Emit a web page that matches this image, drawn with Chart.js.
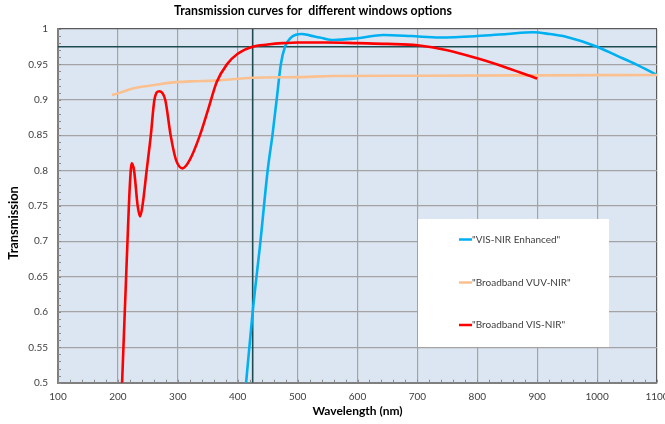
<!DOCTYPE html>
<html><head><meta charset="utf-8">
<script src="https://cdn.jsdelivr.net/npm/chart.js@4.4.1/dist/chart.umd.min.js"></script>
<style>html,body{margin:0;padding:0;background:#fff;}#wrap{width:665px;height:424px;}</style>
</head><body><div id="wrap"><canvas id="c" width="665" height="424"></canvas></div>
<script>
// ---- texts ----
const chartTitle = "Transmission curves for  different windows options";
const xAxisTitle = "Wavelength (nm)";
const yAxisTitle = "Transmission";
const seriesNames = ['"VIS-NIR Enhanced"', '"Broadband VUV-NIR"', '"Broadband VIS-NIR"'];

// ---- tick labels ----
const xTickValues = [100, 200, 300, 400, 500, 600, 700, 800, 900, 1000, 1100];
const xTickLabels = ["100", "200", "300", "400", "500", "600", "700", "800", "900", "1000", "1100"];
const yTickValues = [0.5, 0.55, 0.6, 0.65, 0.7, 0.75, 0.8, 0.85, 0.9, 0.95, 1];
const yTickLabels = ["0.5", "0.55", "0.6", "0.65", "0.7", "0.75", "0.8", "0.85", "0.9", "0.95", "1"];

// ---- series: "VIS-NIR Enhanced" ----
const visNirEnhWl = [408, 414, 425, 438, 450, 458, 465, 472, 479, 488, 497, 507, 520, 537, 560, 600, 643, 690, 737, 800, 850, 893, 920, 948, 1000, 1031, 1065, 1100];
const visNirEnhT  = [0.45, 0.50, 0.60, 0.70, 0.80, 0.85, 0.90, 0.95, 0.975, 0.987, 0.992, 0.993, 0.991, 0.988, 0.9845, 0.987, 0.9915, 0.990, 0.988, 0.990, 0.993, 0.9953, 0.993, 0.989, 0.975, 0.963, 0.950, 0.935];

// ---- series: "Broadband VUV-NIR" ----
const vuvNirWl = [190, 200, 225, 250, 270, 281, 320, 362, 425, 500, 560, 700, 900, 1100];
const vuvNirT  = [0.9067, 0.909, 0.916, 0.9195, 0.922, 0.9235, 0.926, 0.927, 0.931, 0.932, 0.9335, 0.934, 0.9345, 0.935];

// ---- series: "Broadband VIS-NIR" ----
const visNirWl = [204, 207, 216, 220, 223, 227, 233, 237, 241, 248, 255, 261, 269, 279, 288, 297, 308, 320, 337, 352, 365, 382, 400, 425, 450, 475, 500, 550, 600, 650, 700, 750, 800, 850, 900];
const visNirT  = [0.433, 0.50, 0.70, 0.78, 0.81, 0.80, 0.75, 0.735, 0.75, 0.80, 0.85, 0.90, 0.912, 0.90, 0.85, 0.815, 0.803, 0.815, 0.85, 0.89, 0.925, 0.95, 0.965, 0.975, 0.978, 0.980, 0.981, 0.981, 0.980, 0.979, 0.977, 0.970, 0.9585, 0.945, 0.930];

// ---- reference lines ----
const refWavelength = 425;
const refTransmission = 0.975;

const seriesColors = ["#00B0F0", "#FAC090", "#FF0000"];
const refColor = "#1E4B50";
const FONT = "Lato, 'Open Sans', sans-serif";

function pts(xs, ys) { return xs.map((x, i) => ({x: x, y: ys[i]})); }

const xMin = xTickValues[0], xMax = xTickValues[xTickValues.length - 1];
const yMin = yTickValues[0], yMax = yTickValues[yTickValues.length - 1];

const curve = (label, data, color, order) => ({
  label, data, borderColor: color, backgroundColor: color, borderWidth: 2.6,
  pointRadius: 0, cubicInterpolationMode: 'monotone', fill: false, order, clip: 0
});

const datasets = [
  curve(seriesNames[0], pts(visNirEnhWl, visNirEnhT), seriesColors[0], 3),
  curve(seriesNames[1], pts(vuvNirWl, vuvNirT), seriesColors[1], 2),
  curve(seriesNames[2], pts(visNirWl, visNirT), seriesColors[2], 1),
  {label: 'refV', data: [{x: refWavelength, y: yMin}, {x: refWavelength, y: yMax}], borderColor: refColor, borderWidth: 1.6, pointRadius: 0, order: 10, isRef: true, clip: 0},
  {label: 'refH', data: [{x: xMin, y: refTransmission}, {x: xMax, y: refTransmission}], borderColor: refColor, borderWidth: 1.6, pointRadius: 0, order: 10, isRef: true, clip: 0}
];

const bgPlugin = {
  id: 'bg',
  beforeDraw(chart) {
    const {ctx, chartArea: a} = chart;
    ctx.save(); ctx.fillStyle = '#DCE6F2';
    ctx.fillRect(a.left, a.top, a.right - a.left, a.bottom - a.top);
    ctx.restore();
  }
};

const minorTicksPlugin = {
  id: 'minorTicks',
  afterDatasetsDraw(chart) {
    const {ctx, chartArea: a, scales: {x, y}} = chart;
    ctx.save(); ctx.strokeStyle = '#8c8c8c'; ctx.lineWidth = 1;
    ctx.beginPath();
    for (let v = xMin; v <= xMax + 1e-6; v += 20) {
      const px = Math.round(x.getPixelForValue(v)) + 0.5;
      ctx.moveTo(px, a.bottom); ctx.lineTo(px, a.bottom - 3);
    }
    for (let k = 0; k <= 50; k++) {
      const py = Math.round(y.getPixelForValue(yMin + k * 0.01)) + 0.5;
      ctx.moveTo(a.left, py); ctx.lineTo(a.left + 3, py);
    }
    ctx.stroke(); ctx.restore();
  }
};

const textPlugin = {
  id: 'texts',
  afterDraw(chart) {
    const {ctx} = chart;
    ctx.save();
    ctx.fillStyle = '#000';
    ctx.textAlign = 'center'; ctx.textBaseline = 'middle';
    ctx.font = "bold 12.3px " + FONT;
    ctx.fillText(chartTitle, 313, 11);
    ctx.translate(14, 223); ctx.rotate(-Math.PI / 2);
    ctx.font = "bold 12.8px " + FONT;
    ctx.fillText(yAxisTitle, 0, 0);
    ctx.restore();
  }
};

const legendPlugin = {
  id: 'boxLegend',
  afterDraw(chart) {
    const {ctx} = chart;
    ctx.save();
    ctx.fillStyle = '#FFFFFF';
    ctx.fillRect(418, 219, 191, 128);
    const rows = [239.5, 282.5, 325];
    ctx.font = "10px " + FONT;
    ctx.textAlign = 'left'; ctx.textBaseline = 'middle';
    chart.data.datasets.filter(d => !d.isRef).forEach((d, i) => {
      ctx.strokeStyle = d.borderColor; ctx.lineWidth = 2.5;
      ctx.beginPath(); ctx.moveTo(459, rows[i]); ctx.lineTo(472, rows[i]); ctx.stroke();
      ctx.fillStyle = '#404040';
      ctx.fillText(d.label, 472, rows[i]);
    });
    ctx.restore();
  }
};

new Chart(document.getElementById('c'), {
  type: 'line',
  data: {datasets},
  plugins: [bgPlugin, minorTicksPlugin, textPlugin, legendPlugin],
  options: {
    responsive: false, animation: false, devicePixelRatio: 1,
    layout: {padding: {top: 29, right: 8, left: 0, bottom: 0}, autoPadding: false},
    plugins: {legend: {display: false}, tooltip: {enabled: false}, title: {display: false}},
    scales: {
      x: {
        type: 'linear', min: xMin, max: xMax,
        afterBuildTicks: s => { s.ticks = xTickValues.map(v => ({value: v})); },
        ticks: {callback: (v) => xTickLabels[xTickValues.indexOf(v)], color: '#404040', font: {family: FONT, size: 10}, padding: 8, maxRotation: 0, autoSkip: false},
        grid: {drawTicks: false, lineWidth: 1.2, color: c => (c.tick && c.tick.value === xMax) ? '#5a5a5a' : '#a3a3a3'},
        border: {display: true, color: '#7f7f7f', width: 2},
        title: {display: true, text: xAxisTitle, font: {family: FONT, size: 12, weight: 'bold'}, color: '#000', padding: {top: 0, bottom: 6}},
        afterFit: s => { s.height = 41.3; s.paddingLeft = 0; s.paddingRight = 0; }
      },
      y: {
        type: 'linear', min: yMin, max: yMax,
        afterBuildTicks: s => { s.ticks = yTickValues.map(v => ({value: v})); },
        ticks: {callback: (v) => yTickLabels[yTickValues.indexOf(v)], color: '#404040', font: {family: FONT, size: 10}, padding: 10},
        grid: {drawTicks: false, lineWidth: 1.2, color: c => (c.tick && c.tick.value === yMax) ? '#5a5a5a' : '#a3a3a3'},
        border: {display: true, color: '#7f7f7f', width: 2},
        afterFit: s => { s.width = 58; s.paddingTop = 0; s.paddingBottom = 0; }
      }
    }
  }
});
</script></body></html>
